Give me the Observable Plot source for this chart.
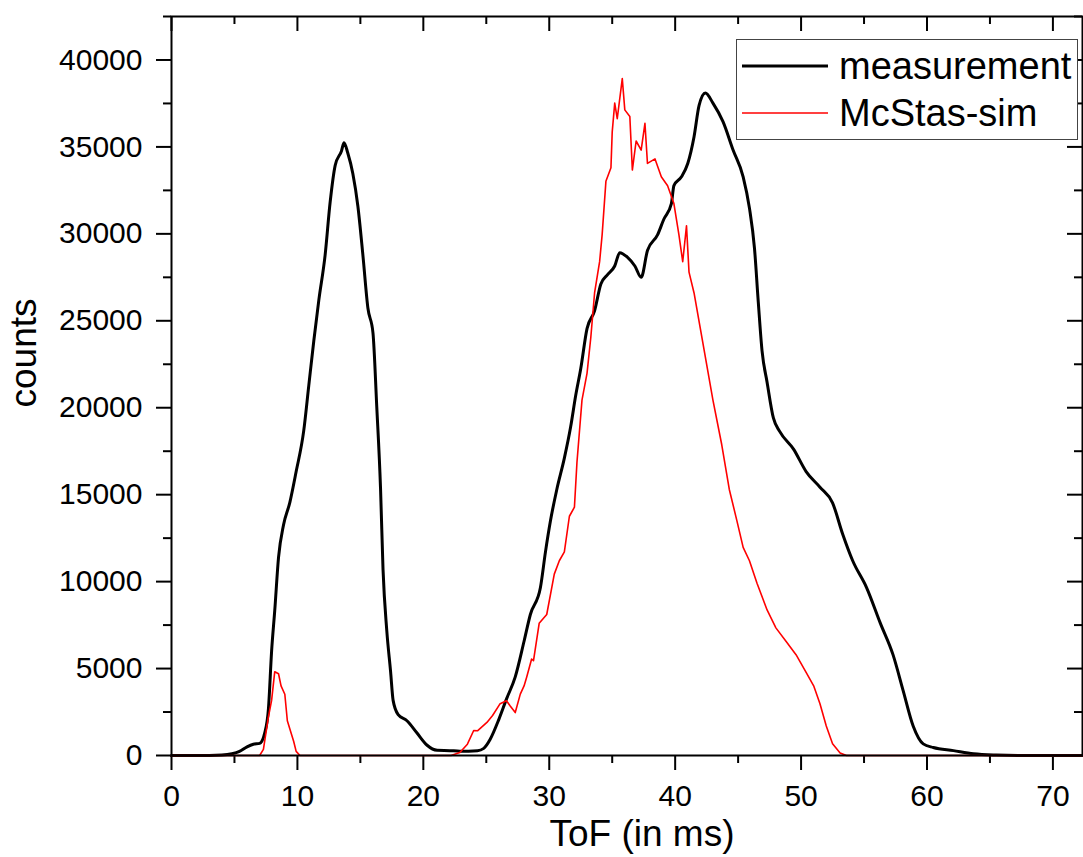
<!DOCTYPE html>
<html>
<head>
<meta charset="utf-8">
<script src="https://cdn.jsdelivr.net/npm/d3@7"></script>
<script src="https://cdn.jsdelivr.net/npm/@observablehq/plot@0.6"></script>
<style>
  html, body { margin: 0; padding: 0; background: #fff; }
  #wrap { position: relative; width: 1083px; height: 857px; font-family: "Liberation Sans", Arial, sans-serif; }
  #legend { position: absolute; left: 736px; top: 39px; width: 342px; height: 101px; border: 1.5px solid #444; background: #fff; box-sizing: border-box; }
  .lrow { position: absolute; left: 5px; height: 40px; display: flex; align-items: center; font-size: 38px; color: #000; white-space: nowrap; }
  .lrow svg { margin-right: 11px; }
</style>
</head>
<body>
<div id="wrap"></div>
<script>
// ---- data ----
const measTime = [0, 2, 4, 4.8, 5.4, 6.0, 6.5, 7.0, 7.4, 7.7, 7.95, 8.2, 8.5, 8.9, 9.4, 9.9, 10.5, 10.9, 11.3, 11.7, 12.2, 12.6, 13.0, 13.5, 13.7, 14.0, 14.4, 14.8, 15.2, 15.6, 16.0, 16.3, 16.6, 16.8, 17.1, 17.4, 17.6, 18.0, 18.7, 19.5, 20.3, 21.1, 22.1, 22.9, 24.3, 24.8, 25.3, 26.0, 26.6, 27.3, 28.0, 28.5, 29.3, 29.7, 30.1, 30.6, 31.2, 31.7, 32.1, 32.5, 33.0, 33.6, 34.1, 34.6, 35.2, 35.6, 36.2, 36.8, 37.3, 37.8, 38.6, 39.1, 39.7, 39.9, 40.5, 41.0, 41.5, 41.9, 42.4, 43.0, 43.8, 44.6, 45.4, 45.9, 46.3, 46.6, 46.9, 47.3, 47.8, 48.3, 49.4, 50.4, 51.5, 52.5, 53.3, 54.1, 55.2, 56.3, 57.3, 58.1, 58.9, 59.7, 60.5, 62.1, 63.7, 65.5, 68, 72.35];
const measCounts = [0, 0, 30, 100, 235, 500, 650, 700, 1290, 2700, 6000, 8340, 11390, 13270, 14560, 16330, 18670, 21260, 23840, 26190, 28780, 31830, 33940, 34770, 35240, 34650, 33470, 31600, 28780, 25720, 24310, 20080, 15390, 10690, 7160, 4820, 3170, 2350, 2000, 1290, 590, 300, 280, 250, 280, 410, 920, 2080, 3240, 4520, 6570, 8110, 9660, 11710, 13510, 15300, 17100, 18900, 20700, 22240, 24550, 25580, 27120, 27630, 28150, 28920, 28660, 28150, 27500, 29040, 29940, 30840, 31740, 32770, 33280, 34050, 35590, 37390, 38100, 37520, 36450, 34820, 33280, 31480, 29170, 26090, 23270, 21470, 19410, 18640, 17620, 16330, 15430, 14530, 12740, 11200, 9660, 7600, 5800, 3750, 1700, 670, 460, 280, 100, 30, 0, 0];

const simTime = [0, 7.0, 7.3, 7.7, 7.95, 8.2, 8.5, 8.7, 9.0, 9.2, 9.4, 9.7, 9.9, 10.2, 22.2, 22.9, 23.5, 24.0, 24.3, 25.05, 25.5, 26.1, 26.6, 26.9, 27.3, 27.7, 28.0, 28.2, 28.6, 28.75, 29.2, 29.8, 30.4, 30.8, 31.2, 31.6, 32.0, 32.2, 32.6, 33.0, 33.3, 33.6, 34.0, 34.2, 34.5, 34.9, 35.0, 35.2, 35.4, 35.8, 36.0, 36.4, 36.6, 36.9, 37.3, 37.6, 37.8, 38.4, 38.9, 39.4, 39.9, 40.3, 40.6, 40.9, 41.1, 41.5, 42.0, 42.5, 43.0, 43.7, 44.3, 44.9, 45.4, 45.9, 46.5, 47.3, 48.0, 48.8, 49.6, 50.4, 51.0, 51.5, 52.0, 52.5, 53.1, 53.6, 72.35];
const simCounts = [0, 0, 350, 2230, 3170, 4820, 4700, 4000, 3520, 2000, 1530, 820, 235, 0, 0, 170, 650, 1440, 1420, 1900, 2300, 2980, 3150, 2850, 2470, 3530, 4000, 4490, 5550, 5450, 7600, 8110, 10430, 11200, 11710, 13760, 14280, 16850, 20440, 21980, 24040, 26600, 28400, 29940, 33020, 33800, 35850, 37520, 36620, 38930, 37130, 36750, 33670, 35340, 34820, 36360, 34050, 34310, 33280, 32770, 31740, 29940, 28400, 30460, 27800, 26600, 24550, 22500, 20440, 17870, 15300, 13510, 11970, 11200, 9910, 8370, 7340, 6570, 5800, 4780, 4010, 2980, 1700, 670, 150, 0, 0];

const xMajor = [0, 10, 20, 30, 40, 50, 60, 70];
const xMinor = [5, 15, 25, 35, 45, 55, 65];
const yMajor = [0, 5000, 10000, 15000, 20000, 25000, 30000, 35000, 40000];
const yMinor = [2500, 7500, 12500, 17500, 22500, 27500, 32500, 37500, 42500];
const xLabel = "ToF (in ms)";
const yLabel = "counts";
const seriesNames = ["measurement", "McStas-sim"];
const seriesColors = ["#000000", "#ff0000"];

const meas = measTime.map((t, i) => ({t, c: measCounts[i]}));
const sim = simTime.map((t, i) => ({t, c: simCounts[i]}));

const fmt = d3.format("d");

const W = 1083, H = 857, ML = 171, MR = 1, MT = 16, MB = 102;
const plotW = W - ML - MR, plotH = H - MT - MB;

const chart = Plot.plot({
  width: W,
  height: H,
  marginLeft: ML,
  marginRight: MR,
  marginTop: MT,
  marginBottom: MB,
  style: {fontFamily: "'Liberation Sans', Arial, sans-serif", fontSize: "30px", color: "#000", background: "#fff"},
  x: {domain: [0, 72.35]},
  y: {domain: [0, 42500]},
  marks: [
    Plot.axisX({ticks: xMajor, tickSize: 15, tickPadding: 14, tickFormat: fmt, fontSize: 30, strokeWidth: 2, label: null}),
    Plot.axisX({ticks: xMinor, tickSize: 8, text: null, strokeWidth: 2, label: null}),
    Plot.axisY({ticks: yMajor, tickSize: 15, tickPadding: 14, tickFormat: fmt, fontSize: 30, strokeWidth: 2, label: null}),
    Plot.axisY({ticks: yMinor, tickSize: 8, text: null, strokeWidth: 2, label: null}),
    // inward ticks on the top and right edges
    Plot.tickX(xMajor, {x: d => d, insetBottom: plotH - 15, stroke: "#000", strokeWidth: 2}),
    Plot.tickX(xMinor, {x: d => d, insetBottom: plotH - 8, stroke: "#000", strokeWidth: 2}),
    Plot.tickY(yMajor, {y: d => d, insetLeft: plotW - 15, stroke: "#000", strokeWidth: 2}),
    Plot.tickY(yMinor, {y: d => d, insetLeft: plotW - 8, stroke: "#000", strokeWidth: 2}),
    Plot.line(meas, {x: "t", y: "c", stroke: seriesColors[0], strokeWidth: 3, curve: "monotone-x", strokeLinejoin: "round"}),
    Plot.line(sim, {x: "t", y: "c", stroke: seriesColors[1], strokeWidth: 1.6, strokeLinejoin: "round"}),
    Plot.frame({stroke: "#000", strokeWidth: 2}),
    Plot.text([xLabel], {frameAnchor: "bottom", dx: 15, dy: 79, fontSize: 37, lineAnchor: "middle", textAnchor: "middle", fill: "#000"}),
    Plot.text([yLabel], {frameAnchor: "left", dx: -147, dy: -33, rotate: -90, fontSize: 37, lineAnchor: "middle", textAnchor: "middle", fill: "#000"})
  ]
});

const wrap = document.getElementById("wrap");
wrap.appendChild(chart);

// legend (HTML overlay inside plot area)
const legend = document.createElement("div");
legend.id = "legend";
seriesNames.forEach((name, i) => {
  const row = document.createElement("div");
  row.className = "lrow";
  row.style.top = (i === 0 ? 6 : 53) + "px";
  row.innerHTML = `<svg width="86" height="10"><line x1="0" x2="86" y1="5" y2="5" stroke="${seriesColors[i]}" stroke-width="${i === 0 ? 3 : 1.6}"/></svg><span>${name}</span>`;
  legend.appendChild(row);
});
wrap.appendChild(legend);
</script>
</body>
</html>
